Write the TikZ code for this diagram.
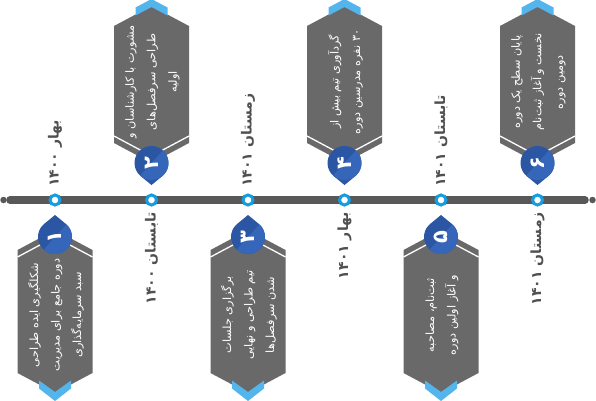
\documentclass[tikz,border=0pt]{standalone}
\usepackage{fontspec}
\newfontfamily\fa[Script=Arabic]{DejaVu Sans}
\TeXXeTstate=1
\usetikzlibrary{calc}
\definecolor{bannergray}{RGB}{105,105,105}
\definecolor{chevblue}{RGB}{84,180,236}
\definecolor{bubdark}{RGB}{42,86,164}
\definecolor{bublight}{RGB}{54,102,186}
\definecolor{tlgray}{RGB}{88,88,88}
\definecolor{ringblue}{RGB}{22,156,224}
\definecolor{labelgray}{RGB}{80,80,80}
\tikzset{
  banner/.style={fill=bannergray},
  chev/.style={fill=chevblue},
  sepline/.style={draw=white, line width=1.3pt},
  bubble/.style={fill=bubdark},
  bubhi/.style={fill=bublight},
  digit/.style={text=white, font=\fa\bfseries\fontsize{21}{21}\selectfont, rotate=90, inner sep=0pt},
  btext/.style={text=white, font=\fa\fontsize{11.3}{21.5}\selectfont, align=center, rotate=90, inner sep=0pt},
  season/.style={text=labelgray, font=\fa\bfseries\fontsize{14}{14}\selectfont, rotate=90, inner sep=0pt},
  msdot/.style={circle, draw=ringblue, line width=3pt, fill=white, minimum size=10pt, inner sep=0pt},
  enddot/.style={circle, fill=tlgray, minimum size=6.5pt, inner sep=0pt},
  tlline/.style={draw=tlgray, line width=7.5pt, line cap=round}
}
\newcommand\UpBanner[1]{%
  \fill[banner] (#1-37.5,26) -- (#1,6) -- (#1+37.5,26) -- (#1+37.5,143) -- (#1,163) -- (#1-37.5,143) -- cycle;
  \fill[chev] (#1-16,15.5) -- (#1,7) -- (#1+16,15.5) -- (#1+16,7.5) -- (#1,-1) -- (#1-16,7.5) -- cycle;
  \draw[sepline] (#1-37.5,136) -- (#1,156) -- (#1+37.5,136);
  \fill[bubble] (#1,185) -- ($(#1,163)+(130:17)$) arc (130:410:17) -- cycle;
  \begin{scope}
    \clip (#1,163) circle (17);
    \fill[bubhi] (#1-20,185) -- (#1+20,141) -- (#1+20,185) -- cycle;
  \end{scope}
}
\newcommand\LowBanner[1]{%
  \fill[banner] (#1-37.5,250) -- (#1,230) -- (#1+37.5,250) -- (#1+37.5,373) -- (#1,393) -- (#1-37.5,373) -- cycle;
  \fill[chev] (#1-16,380.5) -- (#1,392) -- (#1+16,380.5) -- (#1+16,388.5) -- (#1,401) -- (#1-16,388.5) -- cycle;
  \draw[sepline] (#1-37.5,257) -- (#1,237) -- (#1+37.5,257);
  \fill[bubble] (#1,215) -- ($(#1,237)+(-50:17)$) arc (-50:230:17) -- cycle;
  \begin{scope}
    \clip (#1,237) circle (17);
    \fill[bubhi] (#1-20,259) -- (#1+20,215) -- (#1+20,259) -- cycle;
  \end{scope}
}
\begin{document}
\begin{tikzpicture}[x=1pt,y=-1pt]
\useasboundingbox (0,0) rectangle (596,400);
% timeline
\node[enddot] (eL) at (3.5,200) {};
\node[enddot] (eR) at (592.5,200) {};
\coordinate (tA) at (10,200);
\coordinate (tB) at (585,200);
\draw[tlline] (tA) -- (tB);
\node[msdot] (m1) at (55,200) {};
\node[msdot] (m2) at (151.5,200) {};
\node[msdot] (m3) at (248,200) {};
\node[msdot] (m4) at (344.5,200) {};
\node[msdot] (m5) at (441,200) {};
\node[msdot] (m6) at (537.5,200) {};
% banners
\LowBanner{55}
\UpBanner{151.5}
\LowBanner{248}
\UpBanner{344.5}
\LowBanner{441}
\UpBanner{537.5}
% digits
\node[digit] (d1) at (55,237) {۱};
\node[digit] (d2) at (151.5,163) {۲};
\node[digit] (d3) at (248,237) {۳};
\node[digit] (d4) at (344.5,163) {۴};
\node[digit] (d5) at (441,237) {۵};
\node[digit] (d6) at (537.5,163) {۶};
% banner texts
\node[btext] (b1) at (56,315) {\beginR شکلگیری ایده طراحی\endR\\\beginR دوره جامع برای مدیریت\endR\\\beginR سبد سرمایه‌گذاری\endR};
\node[btext] (b2) at (152.5,82) {\beginR مشورت با کارشناسان و\endR\\\beginR طراحی سرفصل‌های\endR\\\beginR اولیه\endR};
\node[btext] (b3) at (249,315) {\beginR برگزاری جلسات\endR\\\beginR تیم طراحی و نهایی\endR\\\beginR شدن سرفصل‌ها\endR};
\node[btext] (b4) at (345.5,82) {\beginR گردآوری تیم بیش از\endR\\\beginR \beginL ۳۰\endL{} نفره مدرسین دوره\endR};
\node[btext] (b5) at (442,315) {\beginR ثبت‌نام، مصاحبه\endR\\\beginR و آغاز اولین دوره\endR};
\node[btext] (b6) at (538.5,82) {\beginR پایان سطح یک دوره\endR\\\beginR نخست و آغاز ثبت‌نام\endR\\\beginR دومین دوره\endR};
% season labels
\node[season, anchor=west] (s1) at (55,187) {\beginR بهار \beginL ۱۴۰۰\endL\endR};
\node[season, anchor=east] (s2) at (151.5,212) {\beginR تابستان \beginL ۱۴۰۰\endL\endR};
\node[season, anchor=west] (s3) at (248,187) {\beginR زمستان \beginL ۱۴۰۱\endL\endR};
\node[season, anchor=east] (s4) at (344.5,212) {\beginR بهار \beginL ۱۴۰۱\endL\endR};
\node[season, anchor=west] (s5) at (441,187) {\beginR تابستان \beginL ۱۴۰۱\endL\endR};
\node[season, anchor=east] (s6) at (537.5,212) {\beginR زمستان \beginL ۱۴۰۱\endL\endR};
\end{tikzpicture}
\end{document}
